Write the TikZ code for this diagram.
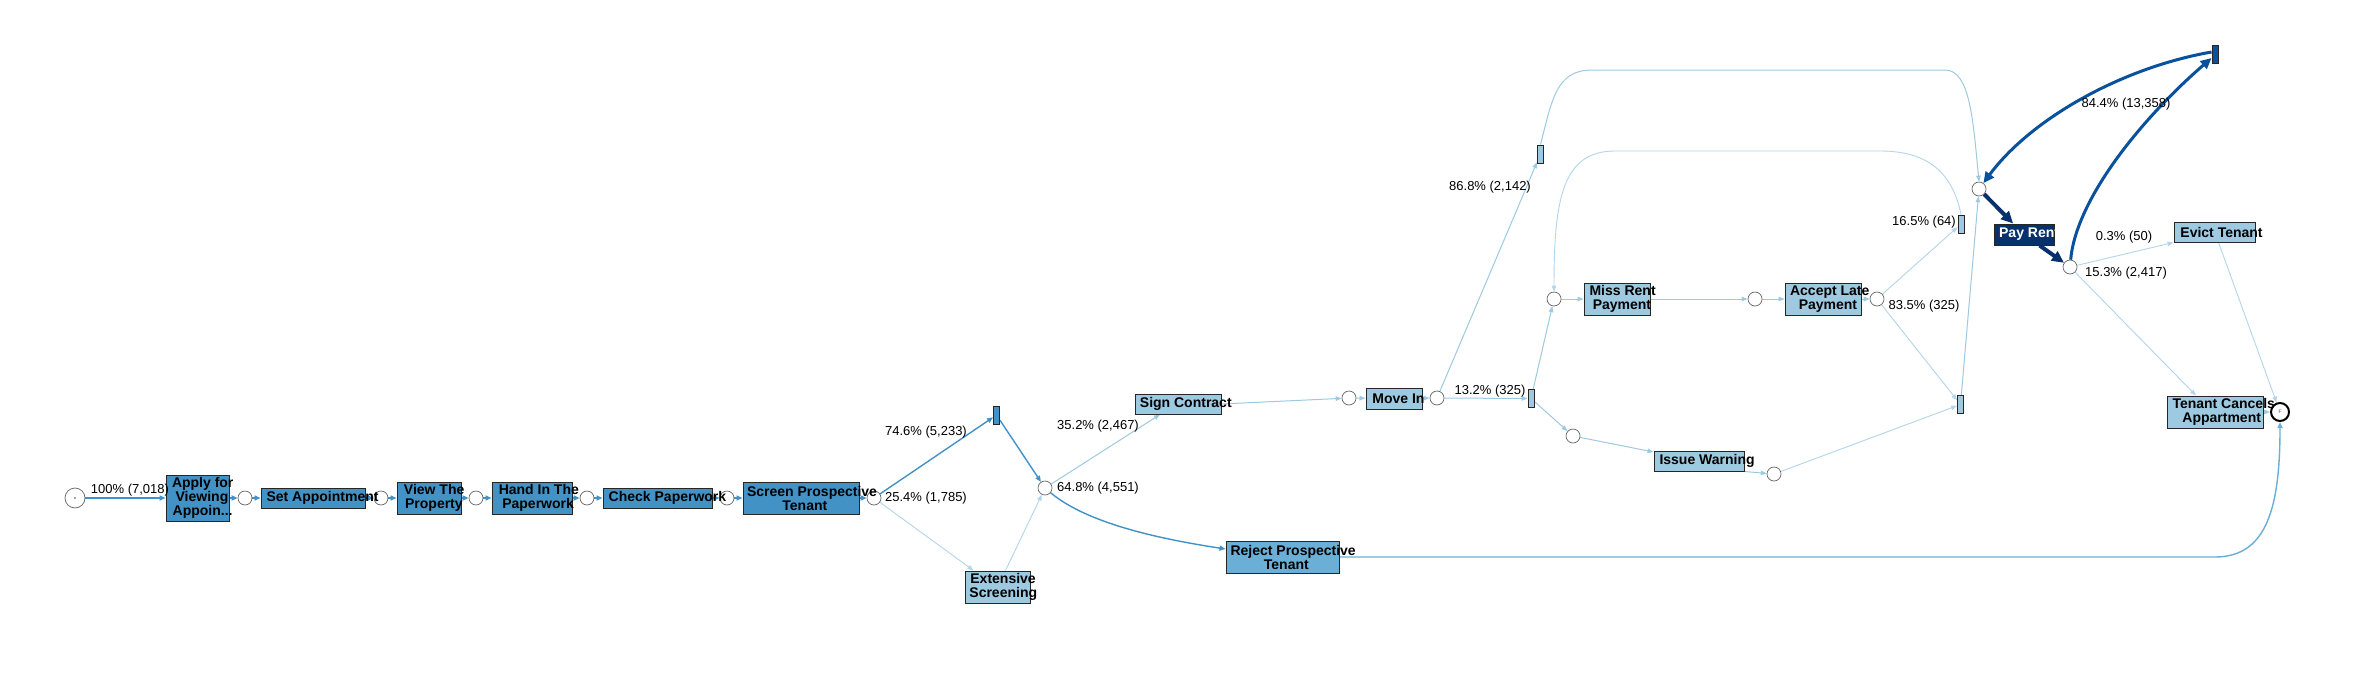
\documentclass[tikz,border=0pt]{standalone}
\usepackage{fontspec}
\setmainfont{Liberation Sans}
\usetikzlibrary{arrows.meta}
\definecolor{cdark}{HTML}{4292C6}
\definecolor{cmidb}{HTML}{6BAED6}
\definecolor{clight}{HTML}{9ECAE1}
\definecolor{clighter}{HTML}{B4D5EA}
\definecolor{cnavy}{HTML}{08306B}
\definecolor{cblue}{HTML}{08519C}
\newcommand\ovl[1]{\makebox[0.83\width][l]{#1}}
\pgfdeclarelayer{edgelayer}
\pgfsetlayers{edgelayer,main}
\begin{document}
\begin{tikzpicture}[x=1pt,y=-1pt,
  act/.style={draw=black!85, line width=1pt, rectangle, inner sep=0pt, font=\bfseries\fontsize{14}{14}\selectfont, align=center},
  barnode/.style={draw=black!85, line width=0.9pt, rectangle, inner sep=0pt, minimum width=6pt, minimum height=18pt},
  plc/.style={draw=black!60, fill=white, circle, inner sep=0pt, minimum size=14pt, line width=0.7pt},
  lab/.style={font=\fontsize{13}{13}\selectfont, inner sep=0pt},
  etwo/.style={draw=cdark, line width=2pt, -{Triangle[length=6pt,width=5pt]}},
  emed/.style={draw=cdark, line width=1.4pt, -{Triangle[length=6pt,width=5pt]}},
  el/.style={draw=clight, line width=1pt, -{Triangle[length=6pt,width=4.5pt]}},
  ell/.style={draw=clighter, line width=0.9pt, -{Triangle[length=6pt,width=4.5pt]}},
  ethick/.style={draw=cnavy, line width=4pt, -{Triangle[length=12pt,width=11pt]}},
  eblue/.style={draw=cblue, line width=3pt, -{Triangle[length=11pt,width=10pt]}}
]
\begin{pgfonlayer}{edgelayer}
\fill[white] (0,0) rectangle (2356,696);
\end{pgfonlayer}
\useasboundingbox (0,0) rectangle (2356,696);

% places
\node[plc, minimum size=20pt] (s) at (75,498) {};
\fill[black!70] (s.center) circle (0.9pt);
\node[plc] (c1) at (245,498) {};
\node[plc] (c2) at (381,498) {};
\node[plc] (c3) at (476,498) {};
\node[plc] (c4) at (587,498) {};
\node[plc] (c5) at (727,498) {};
\node[plc] (c6) at (874,498) {};
\node[plc] (split) at (1045,488) {};
\node[plc] (cm1) at (1349,398) {};
\node[plc] (cm2) at (1437,398) {};
\node[plc] (cmiss) at (1554,299) {};
\node[plc] (cmid) at (1755,299) {};
\node[plc] (cacc) at (1877,299) {};
\node[plc] (ci1) at (1573,436) {};
\node[plc] (ci2) at (1774,474) {};
\node[plc] (cpay) at (1979,189) {};
\node[plc] (caft) at (2070,267) {};
\node[plc, draw=black, line width=2pt, minimum size=18pt] (endp) at (2280,412) {};
\node[font=\fontsize{5}{5}\selectfont, text=black!70, inner sep=0pt] (endF) at (endp.center) {F};

% bars
\node[barnode, fill=cdark] (b746) at (996.5,415) {};
\node[barnode, fill=clight] (b868) at (1540.5,154) {};
\node[barnode, fill=clight] (b132) at (1531,398.5) {};
\node[barnode, fill=clight] (b165) at (1961,224) {};
\node[barnode, fill=clight] (blow) at (1960.5,404.5) {};
\node[barnode, fill=cblue] (btop) at (2215,54) {};

% activity boxes
\node[act, fill=cdark, minimum width=63pt, minimum height=46pt] (apply) at (197.5,498) {\ovl{Apply for}\\\ovl{Viewing}\\\ovl{Appoin...}};
\node[act, fill=cdark, minimum width=104pt, minimum height=20pt] (setap) at (313,498) {\ovl{Set Appointment}};
\node[act, fill=cdark, minimum width=64pt, minimum height=32pt] (view) at (429,498) {\ovl{View The}\\\ovl{Property}};
\node[act, fill=cdark, minimum width=80pt, minimum height=32pt] (hand) at (532,498) {\ovl{Hand In The}\\\ovl{Paperwork}};
\node[act, fill=cdark, minimum width=109pt, minimum height=20pt] (check) at (657.5,498) {\ovl{Check Paperwork}};
\node[act, fill=cdark, minimum width=116pt, minimum height=32pt] (screen) at (801,498) {\ovl{Screen Prospective}\\\ovl{Tenant}};
\node[act, fill=clight, minimum width=65pt, minimum height=32pt] (ext) at (997.5,587) {\ovl{Extensive}\\\ovl{Screening}};
\node[act, fill=clight, minimum width=86pt, minimum height=20pt] (sign) at (1178,404) {\ovl{Sign Contract}};
\node[act, fill=cmidb, minimum width=113pt, minimum height=32pt] (reject) at (1282.5,557) {\ovl{Reject Prospective}\\\ovl{Tenant}};
\node[act, fill=clight, minimum width=56pt, minimum height=21pt] (movein) at (1394,398.5) {\ovl{Move In}};
\node[act, fill=clight, minimum width=66pt, minimum height=32pt] (miss) at (1617,299) {\ovl{Miss Rent}\\\ovl{Payment}};
\node[act, fill=clight, minimum width=76pt, minimum height=32pt] (accept) at (1823,299) {\ovl{Accept Late}\\\ovl{Payment}};
\node[act, fill=clight, minimum width=90pt, minimum height=20pt] (issue) at (1699,461) {\ovl{Issue Warning}};
\node[act, fill=cnavy, text=white, minimum width=60pt, minimum height=21pt] (pay) at (2024,234.5) {\ovl{Pay Rent}};
\node[act, fill=clight, minimum width=81pt, minimum height=20pt] (evict) at (2214.5,232) {\ovl{Evict Tenant}};
\node[act, fill=clight, minimum width=96pt, minimum height=32pt] (tcancel) at (2215,412) {\ovl{Tenant Cancels}\\\ovl{Appartment}};

% labels
\node[lab] (l1) at (130,490) {100\% (7,018)};
\node[lab] (l2) at (926,432) {74.6\% (5,233)};
\node[lab] (l3) at (926,498) {25.4\% (1,785)};
\node[lab] (l4) at (1098,488) {64.8\% (4,551)};
\node[lab] (l5) at (1098,426) {35.2\% (2,467)};
\node[lab] (l6) at (1490,187) {86.8\% (2,142)};
\node[lab] (l7) at (1490,391) {13.2\% (325)};
\node[lab] (l8) at (1924,222) {16.5\% (64)};
\node[lab] (l9) at (1924,306) {83.5\% (325)};
\node[lab] (l10) at (2126,104) {84.4\% (13,358)};
\node[lab] (l11) at (2124,237) {0.3\% (50)};
\node[lab] (l12) at (2126,273) {15.3\% (2,417)};

\begin{pgfonlayer}{edgelayer}
% edges: main chain
\draw[etwo] (s) -- (apply);
\draw[etwo] (apply) -- (c1);
\draw[etwo] (c1) -- (setap);
\draw[etwo] (setap) -- (c2);
\draw[etwo] (c2) -- (view);
\draw[etwo] (view) -- (c3);
\draw[etwo] (c3) -- (hand);
\draw[etwo] (hand) -- (c4);
\draw[etwo] (c4) -- (check);
\draw[etwo] (check) -- (c5);
\draw[etwo] (c5) -- (screen);
\draw[etwo] (screen) -- (c6);

% screening split
\draw[emed] (c6) -- (b746);
\draw[ell] (c6) -- ([xshift=-24pt]ext.north);
\draw[emed] (b746) -- (split);
\draw[ell] ([xshift=8pt]ext.north) -- (split);
\draw[el] (split) -- ([xshift=-18pt]sign.south);
\draw[emed] (split) .. controls (1089,525) and (1167,540) .. ([yshift=8pt]reject.west);
\draw[emed, draw=cmidb] (reject.east) -- (2215,557) .. controls (2268,557) and (2280,505) .. (endp.south);

% move in
\draw[el] (sign.east) -- (cm1);
\draw[el] (cm1) -- (movein);
\draw[el] (movein) -- (cm2);
\draw[el] (cm2) -- (b868);
\draw[el] (cm2) -- (b132);
\draw[el] (b868.north) .. controls (1552,100) and (1556,70) .. (1592,70) -- (1945,70) .. controls (1970,70) and (1973,120) .. (cpay.north);
\draw[el] (b132) -- (cmiss);
\draw[el] (b132) -- (ci1);
\draw[el] (ci1) -- ([yshift=9pt]issue.west);
\draw[el] (issue.south east) -- (ci2);
\draw[ell] (ci2) -- (blow);
\draw[el] (cmiss) -- (miss);
\draw[el] (miss) -- (cmid);
\draw[el] (cmid) -- (accept);
\draw[el] (accept) -- (cacc);
\draw[ell] (cacc) -- (b165);
\draw[ell] (cacc) -- (blow);
\draw[ell] (b165.north) .. controls (1952,170) and (1925,151) .. (1880,151) -- (1615,151) .. controls (1562,151) and (1554,200) .. (cmiss.north);
\draw[el] (blow) -- (cpay);

% pay rent loop
\draw[ethick] (cpay) -- (pay);
\draw[ethick] (pay) -- (caft);
\draw[eblue] (caft) .. controls (2076,200) and (2140,120) .. ([yshift=-4pt]btop.west);
\draw[eblue] ([yshift=2pt]btop.west) .. controls (2120,68) and (2030,120) .. (cpay);

% endings
\draw[ell] (caft) -- (evict.south west);
\draw[ell] (caft) -- ([xshift=-19pt]tcancel.north);
\draw[ell] ([xshift=4pt]evict.south) -- (endp);
\draw[el] (tcancel) -- (endp);
\end{pgfonlayer}
\end{tikzpicture}
\end{document}
